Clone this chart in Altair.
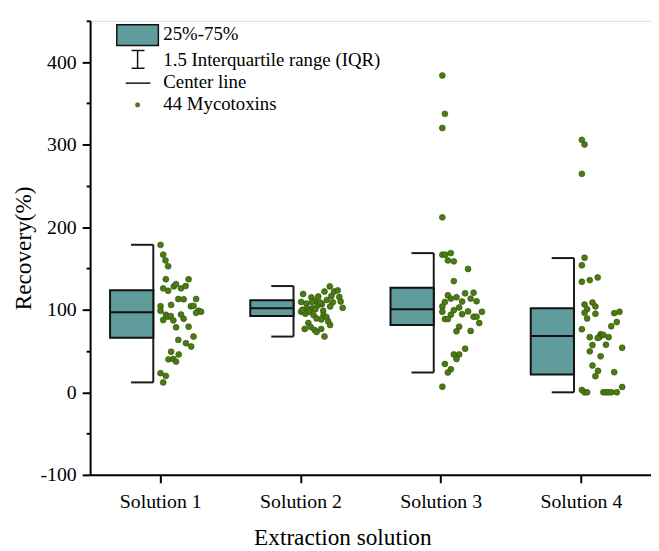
import altair as alt
import pandas as pd

# ---------------- data ----------------
solutions = ["Solution 1", "Solution 2", "Solution 3", "Solution 4"]

# box statistics per solution
q1 = [66.0, 92.3, 81.5, 21.6]
median = [97.0, 101.9, 100.7, 68.3]
q3 = [123.5, 111.5, 126.7, 101.9]
whisker_low = [12.0, 67.5, 24.0, 0.0]
whisker_high = [178.7, 128.7, 168.6, 162.6]

# 44 mycotoxin recoveries per solution, with their horizontal jitter (px right of the tick)
s1_values = [178.6, 166.7, 159.8, 152.7, 137.0, 137.0, 125.9, 123.0, 128.3, 131.0, 125.9,
             128.7, 113.0, 112.7, 113.0, 104.3, 105.9, 104.3, 104.7, 98.7, 98.7, 97.5,
             96.3, 93.9, 91.5, 92.3, 87.5, 87.1, 94.2, 89.1, 78.7, 79.5, 67.5, 63.5,
             59.5, 55.5, 49.2, 45.9, 39.9, 40.4, 37.2, 23.2, 19.9, 12.0]
s1_jitter = [0.3, 3, 5.3, 8, 5.7, 28.7, 3, 8, 13.7, 16, 21, 25.7, 18.3, 23.7, 36.3, 0.3,
             11, 31, 33.7, 0.3, 38.7, 41.3, 36.3, 5.7, 8, 10.7, 3, 13.3, 21, 23.7, 16,
             28.7, 33.7, 18.3, 26, 31.3, 11, 18.7, 8.3, 13.3, 16, 0.3, 5.7, 3]

s2_values = [119.0, 109.5, 107.5, 115.0, 110.7, 116.0, 122.0, 128.3, 122.0, 123.5, 116.7,
             111.9, 115.5, 110.0, 109.0, 102.3, 106.7, 105.0, 101.6, 101.6, 99.2, 97.5,
             95.1, 97.5, 98.7, 93.5, 93.5, 89.5, 88.3, 91.1, 86.0, 81.5, 83.9, 79.1,
             76.7, 75.5, 73.1, 76.7, 67.6, 109.5, 108.7, 100.0, 100.7, 104.0]
s2_jitter = [2.7, 0.7, 6, 11, 15, 18, 24.3, 29.7, 34, 37.7, 31.3, 26.7, 39.3, 40.7, 32.7,
             42.7, 21.7, 17.3, 11.7, 6.7, 3.3, 0.7, 5, 9, 23, 23.3, 13.3, 16.3, 21, 26.3,
             28, 30, 8, 10.3, 4.3, 14.3, 16.3, 21, 24.3, 11.7, 20, 2, 15, 30]

s3_values = [383.7, 337.3, 320.1, 211.9, 166.7, 166.7, 168.6, 159.8, 158.6, 149.4, 134.7,
             117.5, 113.5, 115.1, 119.9, 120.7, 113.5, 110.3, 109.9, 109.5, 104.0, 102.8,
             99.5, 97.5, 93.9, 98.0, 97.5, 94.7, 91.5, 91.5, 88.7, 88.7, 83.9, 79.5,
             73.9, 74.3, 52.8, 45.9, 45.9, 40.4, 34.4, 28.0, 24.0, 6.8]
s3_jitter = [1.7, 4.3, 1.7, 1.7, 1.7, 4.7, 10.3, 7.3, 13.3, 27.7, 13.3, 7.3, 10.3, 16, 24.7,
             33.3, 30.3, 36.3, 21.7, 4.3, 1.7, 18.7, 13.3, 1.7, 10.3, 27.7, 41.7, 21.7,
             33.3, 36.3, 4.3, 7.3, 39, 18.7, 16, 30.3, 24.7, 13.3, 18.7, 16, 4.3, 10.3,
             7.3, 1.7]

s4_values = [305.8, 300.2, 264.6, 163.0, 153.9, 133.9, 135.9, 139.1, 106.3, 108.7, 104.0,
             100.7, 96.3, 95.1, 89.5, 95.9, 97.5, 85.1, 80.0, 76.4, 70.3, 69.5, 66.8,
             66.8, 65.9, 66.8, 57.2, 57.6, 54.0, 49.6, 43.6, 32.4, 26.0, 19.6, 24.4, 6.4,
             2.8, 0.0, 0.0, 0.0, 0.0, 0.0, 0.0, 0.0]
s4_jitter = [1, 3.7, 1, 3.7, 1, 1, 9, 17, 3.7, 11.7, 14.7, 6.3, 3.7, 14.7, 6.3, 33.7, 39,
             36.3, 30.7, 1, 20, 22.7, 18.7, 9, 17, 28, 11.7, 25.3, 41.7, 9, 20, 11.7, 17.3,
             14.7, 33.7, 41.7, 1, 3.7, 6.3, 22.7, 25.3, 28, 30.7, 36.3]

# ---------------- layout constants ----------------
PLOT_W = 567
PLOT_H = 459
PX_PER_CAT = PLOT_W / 4.0
BOX_LEFT = -50.7 / PX_PER_CAT
BOX_RIGHT = -7.0 / PX_PER_CAT
CAP_LEFT = -29.5 / PX_PER_CAT

TEAL = "#609c9b"
GREEN = "#4b7b12"
FONT = "Liberation Serif"

rows = []
for i, (vals, jit) in enumerate([(s1_values, s1_jitter), (s2_values, s2_jitter),
                                 (s3_values, s3_jitter), (s4_values, s4_jitter)]):
    for v, j in zip(vals, jit):
        rows.append({"cat": i + 1, "solution": solutions[i], "value": v, "jitter": j / PX_PER_CAT})
points_df = pd.DataFrame(rows)

box_df = pd.DataFrame({
    "cat": [1, 2, 3, 4], "solution": solutions,
    "q1": q1, "median": median, "q3": q3, "lo": whisker_low, "hi": whisker_high,
})

x_scale = alt.Scale(domain=[0.5, 4.5], nice=False, zero=False)
y_scale = alt.Scale(domain=[-100, 450], nice=False, zero=False)

x_axis = alt.Axis(
    values=[1, 2, 3, 4],
    labelExpr="'Solution ' + datum.value",
    title="Extraction solution",
    grid=False, domainColor="black", domainWidth=2, tickColor="black", tickWidth=2,
    tickSize=8, labelFont=FONT, labelFontSize=20, labelColor="black", labelPadding=9,
    titleFont=FONT, titleFontSize=23.5, titleFontWeight="normal", titleColor="black",
    titleX=255, titleY=70, titleBaseline="alphabetic", titleAlign="center",
    labelFlush=False,
)
y_axis = alt.Axis(
    values=list(range(-100, 451, 50)),
    labelExpr="datum.value % 100 === 0 ? '' + datum.value : ''",
    title="Recovery(%)",
    grid=False, domainColor="black", domainWidth=2, tickColor="black", tickWidth=2,
    tickSize={"condition": {"test": "datum.value % 100 !== 0", "value": 4}, "value": 8},
    labelFont=FONT, labelFontSize=20, labelColor="black", labelPadding=6,
    titleFont=FONT, titleFontSize=23.5, titleFontWeight="normal", titleColor="black",
    titleX=-67, titleY=PLOT_H / 2, titleAngle=270, titleBaseline="middle",
    titleAlign="center", labelFlush=False,
)

base_box = alt.Chart(box_df).transform_calculate(
    bl="datum.cat + " + repr(BOX_LEFT),
    br="datum.cat + " + repr(BOX_RIGHT),
    cl="datum.cat + " + repr(CAP_LEFT),
)

whisker = base_box.mark_rule(color="#1a1a1a", strokeWidth=2).encode(
    x=alt.X("br:Q", scale=x_scale, axis=x_axis),
    y=alt.Y("lo:Q", scale=y_scale, axis=y_axis),
    y2="hi:Q",
)
cap_hi = base_box.mark_rule(color="#1a1a1a", strokeWidth=2).encode(
    x=alt.X("cl:Q", scale=x_scale, axis=x_axis), x2="br:Q",
    y=alt.Y("hi:Q", scale=y_scale, axis=y_axis),
)
cap_lo = base_box.mark_rule(color="#1a1a1a", strokeWidth=2).encode(
    x=alt.X("cl:Q", scale=x_scale, axis=x_axis), x2="br:Q",
    y=alt.Y("lo:Q", scale=y_scale, axis=y_axis),
)
box = base_box.mark_rect(fill=TEAL, stroke="#111111", strokeWidth=2).encode(
    x=alt.X("bl:Q", scale=x_scale, axis=x_axis), x2="br:Q",
    y=alt.Y("q1:Q", scale=y_scale, axis=y_axis), y2="q3:Q",
)
med = base_box.mark_rule(color="#111111", strokeWidth=2).encode(
    x=alt.X("bl:Q", scale=x_scale, axis=x_axis), x2="br:Q",
    y=alt.Y("median:Q", scale=y_scale, axis=y_axis),
)
pts = alt.Chart(points_df).transform_calculate(
    px="datum.cat + datum.jitter"
).mark_circle(size=36, fill=GREEN, stroke="#2e4e0a", strokeWidth=0.6, opacity=1).encode(
    x=alt.X("px:Q", scale=x_scale, axis=x_axis),
    y=alt.Y("value:Q", scale=y_scale, axis=y_axis),
)

# ---------------- legend (drawn in the top-left corner of the plot) ----------------
one = pd.DataFrame({"k": [0]})
leg_rect = alt.Chart(one).mark_rect(fill=TEAL, stroke="#111111", strokeWidth=1.5).encode(
    x=alt.value(27), x2=alt.value(69), y=alt.value(4), y2=alt.value(25))
leg_i = alt.Chart(one).mark_rule(color="#111111", strokeWidth=1.5).encode(
    x=alt.value(48), y=alt.value(30), y2=alt.value(48))
leg_i_top = alt.Chart(one).mark_rule(color="#111111", strokeWidth=1.5).encode(
    x=alt.value(42), x2=alt.value(55), y=alt.value(30))
leg_i_bot = alt.Chart(one).mark_rule(color="#111111", strokeWidth=1.5).encode(
    x=alt.value(42), x2=alt.value(55), y=alt.value(48))
leg_line = alt.Chart(one).mark_rule(color="#111111", strokeWidth=1.5).encode(
    x=alt.value(36), x2=alt.value(61), y=alt.value(63))
leg_dot = alt.Chart(one).mark_circle(size=20, fill=GREEN, stroke="#2e4e0a", strokeWidth=0.5, opacity=1).encode(
    x=alt.value(48), y=alt.value(85))

legend_labels = ["25%-75%", "1.5 Interquartile range (IQR)", "Center line", "44 Mycotoxins"]
legend_y = [13, 40, 62, 84]
leg_texts = [
    alt.Chart(one).mark_text(align="left", baseline="middle", font=FONT, fontSize=19,
                             color="black").encode(
        x=alt.value(74), y=alt.value(yy), text=alt.value(lbl))
    for lbl, yy in zip(legend_labels, legend_y)
]

chart = alt.layer(
    whisker, cap_hi, cap_lo, box, med, pts,
    leg_rect, leg_i, leg_i_top, leg_i_bot, leg_line, leg_dot, *leg_texts,
).properties(
    width=PLOT_W, height=PLOT_H,
    autosize="none",
    padding={"left": 83, "top": 10, "right": 0, "bottom": 72},
).configure_view(stroke=None).configure(background="white")

chart.save("out.html", embed_options={"renderer": "svg", "actions": False})
